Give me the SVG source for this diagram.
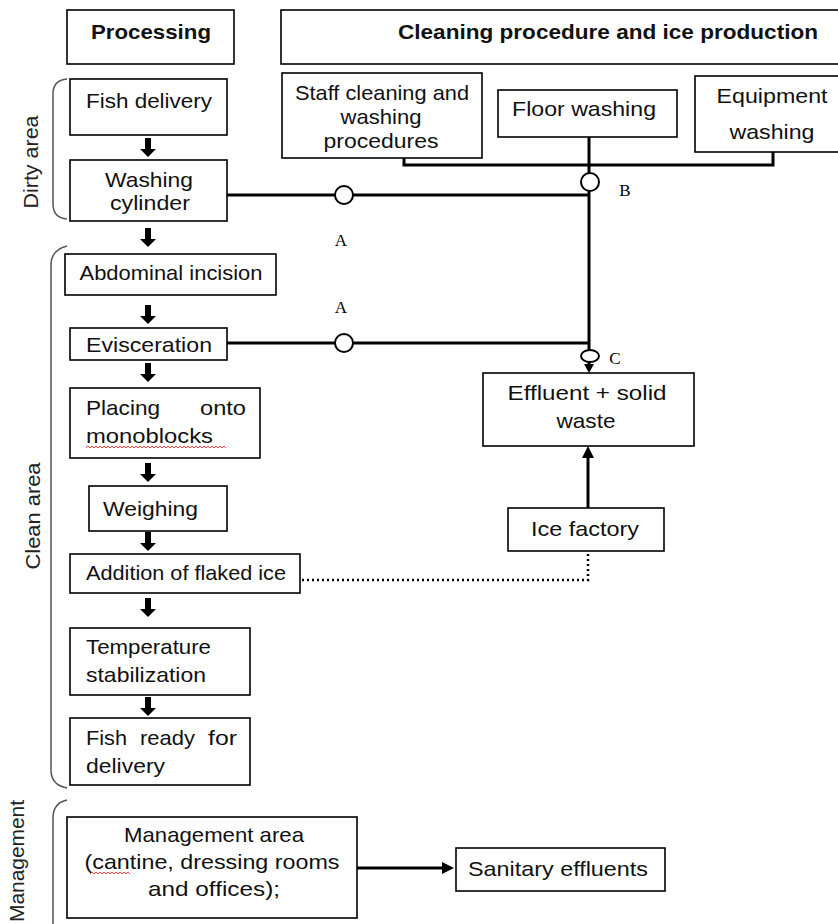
<svg xmlns="http://www.w3.org/2000/svg" width="838" height="924" viewBox="0 0 838 924">
  <defs>
    <style>
      .box { fill: #fff; stroke: #000; stroke-width: 1.6; }
      .t { font-family: "Liberation Sans", Arial, sans-serif; font-size: 21px; fill: #111; }
      .h { font-family: "Liberation Sans", Arial, sans-serif; font-size: 21px; font-weight: bold; fill: #111; }
      .lbl { font-family: "Liberation Serif", "Times New Roman", serif; font-size: 17px; fill: #000; }
      .side { font-family: "Liberation Sans", Arial, sans-serif; font-size: 21px; fill: #222; }
      .pipe { fill: none; stroke: #000; stroke-width: 3; }
      .dot { fill: none; stroke: #000; stroke-width: 2.5; stroke-dasharray: 2 3; }
      .brace { fill: none; stroke: #555; stroke-width: 1.5; }
      .node { fill: #fff; stroke: #000; stroke-width: 2; }
      .spell { fill: none; stroke: #e03030; stroke-width: 0.9; }
    </style>
    <!-- thick block arrow pointing down, origin at the top centre of the shaft -->
    <path id="down" d="M-3,0 H3 V11 H8 L0,19 L-8,11 H-3 Z" fill="#000"/>
  </defs>

  <rect width="838" height="924" fill="#fff"/>

  <!-- column headers -->
  <g id="hdr-processing">
    <rect class="box" x="67" y="10" width="167" height="54"/>
    <text class="h" x="151" y="39" text-anchor="middle" textLength="120" lengthAdjust="spacingAndGlyphs">Processing</text>
  </g>
  <g id="hdr-cleaning">
    <rect class="box" x="281" y="10" width="565" height="54"/>
    <text class="h" x="398" y="39" textLength="420" lengthAdjust="spacingAndGlyphs">Cleaning procedure and ice production</text>
  </g>

  <!-- area braces and side labels -->
  <g id="area-dirty">
    <path class="brace" d="M67,79 Q53,80 53,94 V204 Q53,218 67,219"/>
    <text class="side" transform="translate(38,162) rotate(-90)" text-anchor="middle" textLength="93" lengthAdjust="spacingAndGlyphs">Dirty area</text>
  </g>
  <g id="area-clean">
    <path class="brace" d="M67,246 Q51,250 51,265 V770 Q51,785 67,788"/>
    <text class="side" transform="translate(40,516) rotate(-90)" text-anchor="middle" textLength="107" lengthAdjust="spacingAndGlyphs">Clean area</text>
  </g>
  <g id="area-management">
    <path class="brace" d="M67,800 Q53,803 53,818 V924"/>
    <text class="side" transform="translate(24,861) rotate(-90)" text-anchor="middle" textLength="122" lengthAdjust="spacingAndGlyphs">Management</text>
  </g>

  <!-- processing steps -->
  <g id="fish-delivery">
    <rect class="box" x="70" y="79" width="157" height="56"/>
    <text class="t" x="149" y="108" text-anchor="middle" textLength="126" lengthAdjust="spacingAndGlyphs">Fish delivery</text>
  </g>
  <g id="washing-cylinder">
    <rect class="box" x="70" y="160" width="157" height="61"/>
    <text class="t" x="149" y="187" text-anchor="middle" textLength="88" lengthAdjust="spacingAndGlyphs">Washing</text>
    <text class="t" x="150" y="210" text-anchor="middle" textLength="80" lengthAdjust="spacingAndGlyphs">cylinder</text>
  </g>
  <g id="abdominal-incision">
    <rect class="box" x="65" y="254" width="211" height="41"/>
    <text class="t" x="171" y="280" text-anchor="middle" textLength="183" lengthAdjust="spacingAndGlyphs">Abdominal incision</text>
  </g>
  <g id="evisceration">
    <rect class="box" x="70" y="328" width="157" height="32"/>
    <text class="t" x="86" y="352" textLength="126" lengthAdjust="spacingAndGlyphs">Evisceration</text>
  </g>
  <g id="placing">
    <rect class="box" x="70" y="388" width="190" height="70"/>
    <text class="t" x="86" y="415" textLength="74" lengthAdjust="spacingAndGlyphs">Placing</text>
    <text class="t" x="200" y="415" textLength="46" lengthAdjust="spacingAndGlyphs">onto</text>
    <text class="t" x="86" y="443" textLength="127" lengthAdjust="spacingAndGlyphs">monoblocks</text>
    <path class="spell" d="M86,448 l2,-2 l2,2 l2,-2 l2,2 l2,-2 l2,2 l2,-2 l2,2 l2,-2 l2,2 l2,-2 l2,2 l2,-2 l2,2 l2,-2 l2,2 l2,-2 l2,2 l2,-2 l2,2 l2,-2 l2,2 l2,-2 l2,2 l2,-2 l2,2 l2,-2 l2,2 l2,-2 l2,2 l2,-2 l2,2 l2,-2 l2,2 l2,-2 l2,2 l2,-2 l2,2 l2,-2 l2,2 l2,-2 l2,2 l2,-2 l2,2 l2,-2 l2,2 l2,-2 l2,2 l2,-2 l2,2 l2,-2 l2,2 l2,-2 l2,2 l2,-2 l2,2 l2,-2 l2,2 l2,-2 l2,2 l2,-2 l2,2 l2,-2 l2,2 l2,-2 l2,2 l2,-2 l2,2 l2,-2 l2,2"/>
  </g>
  <g id="weighing">
    <rect class="box" x="89" y="486" width="138" height="45"/>
    <text class="t" x="103" y="516" textLength="95" lengthAdjust="spacingAndGlyphs">Weighing</text>
  </g>
  <g id="flaked-ice">
    <rect class="box" x="70" y="554" width="230" height="39"/>
    <text class="t" x="86" y="580" textLength="200" lengthAdjust="spacingAndGlyphs">Addition of flaked ice</text>
  </g>
  <g id="temperature">
    <rect class="box" x="70" y="628" width="180" height="67"/>
    <text class="t" x="86" y="654" textLength="125" lengthAdjust="spacingAndGlyphs">Temperature</text>
    <text class="t" x="86" y="682" textLength="120" lengthAdjust="spacingAndGlyphs">stabilization</text>
  </g>
  <g id="fish-ready">
    <rect class="box" x="70" y="718" width="180" height="67"/>
    <text class="t" x="86" y="745" textLength="41" lengthAdjust="spacingAndGlyphs">Fish</text>
    <text class="t" x="140" y="745" textLength="55" lengthAdjust="spacingAndGlyphs">ready</text>
    <text class="t" x="208" y="745" textLength="29" lengthAdjust="spacingAndGlyphs">for</text>
    <text class="t" x="86" y="773" textLength="79" lengthAdjust="spacingAndGlyphs">delivery</text>
  </g>

  <!-- cleaning sources -->
  <g id="staff-cleaning">
    <rect class="box" x="282" y="73" width="200" height="85"/>
    <text class="t" x="382" y="100" text-anchor="middle" textLength="174" lengthAdjust="spacingAndGlyphs">Staff cleaning and</text>
    <text class="t" x="381" y="124" text-anchor="middle" textLength="81" lengthAdjust="spacingAndGlyphs">washing</text>
    <text class="t" x="381" y="148" text-anchor="middle" textLength="115" lengthAdjust="spacingAndGlyphs">procedures</text>
  </g>
  <g id="floor-washing">
    <rect class="box" x="498" y="90" width="179" height="47"/>
    <text class="t" x="584" y="116" text-anchor="middle" textLength="144" lengthAdjust="spacingAndGlyphs">Floor washing</text>
  </g>
  <g id="equipment-washing">
    <rect class="box" x="695" y="76" width="150" height="76"/>
    <text class="t" x="772" y="103" text-anchor="middle" textLength="111" lengthAdjust="spacingAndGlyphs">Equipment</text>
    <text class="t" x="772" y="139" text-anchor="middle" textLength="85" lengthAdjust="spacingAndGlyphs">washing</text>
  </g>

  <!-- waste side -->
  <g id="effluent">
    <rect class="box" x="483" y="373" width="211" height="73"/>
    <text class="t" x="587" y="400" text-anchor="middle" textLength="159" lengthAdjust="spacingAndGlyphs">Effluent + solid</text>
    <text class="t" x="586" y="428" text-anchor="middle" textLength="59" lengthAdjust="spacingAndGlyphs">waste</text>
  </g>
  <g id="ice-factory">
    <rect class="box" x="508" y="508" width="156" height="43"/>
    <text class="t" x="585" y="536" text-anchor="middle" textLength="108" lengthAdjust="spacingAndGlyphs">Ice factory</text>
  </g>

  <!-- management -->
  <g id="management-area">
    <rect class="box" x="67" y="817" width="290" height="101"/>
    <text class="t" x="214" y="842" text-anchor="middle" textLength="180" lengthAdjust="spacingAndGlyphs">Management area</text>
    <text class="t" x="212" y="869" text-anchor="middle" textLength="255" lengthAdjust="spacingAndGlyphs">(cantine, dressing rooms</text>
    <text class="t" x="214" y="896" text-anchor="middle" textLength="132" lengthAdjust="spacingAndGlyphs">and offices);</text>
    <path class="spell" d="M90,874 l2,-2 l2,2 l2,-2 l2,2 l2,-2 l2,2 l2,-2 l2,2 l2,-2 l2,2 l2,-2 l2,2 l2,-2 l2,2 l2,-2 l2,2 l2,-2 l2,2 l2,-2 l2,2"/>
  </g>
  <g id="sanitary-effluents">
    <rect class="box" x="456" y="848" width="209" height="43"/>
    <text class="t" x="558" y="876" text-anchor="middle" textLength="180" lengthAdjust="spacingAndGlyphs">Sanitary effluents</text>
  </g>

  <!-- connectors -->
  <g id="connectors">
    <!-- process flow arrows -->
    <use href="#down" x="148" y="138"/>
    <use href="#down" x="148" y="228"/>
    <use href="#down" x="148" y="305"/>
    <use href="#down" x="148" y="363"/>
    <use href="#down" x="148" y="463"/>
    <use href="#down" x="148" y="532"/>
    <use href="#down" x="148" y="598"/>
    <use href="#down" x="148" y="697"/>

    <!-- cleaning collector -->
    <path class="pipe" d="M404,158 V165 H773 V152"/>
    <path class="pipe" d="M589,137 V350"/>
    <!-- wastewater lines from washing cylinder and evisceration -->
    <path class="pipe" d="M227,195 H589"/>
    <path class="pipe" d="M227,343 H589"/>
    <!-- to effluent -->
    <path class="pipe" d="M589,362 V366"/>
    <path d="M584,364 H594 L589,373 Z" fill="#000"/>

    <!-- ice factory to effluent -->
    <path class="pipe" d="M588,508 V456"/>
    <path d="M582,458 L588,446 L594,458 Z" fill="#000"/>
    <!-- ice supply to processing -->
    <path class="dot" d="M302,580 H588 V553"/>

    <!-- management to sanitary effluents -->
    <path class="pipe" d="M357,868 H444"/>
    <path d="M442,862 L454,868 L442,874 Z" fill="#000"/>

    <!-- sampling points -->
    <circle class="node" cx="344" cy="195" r="9"/>
    <circle class="node" cx="344" cy="343" r="9"/>
    <circle class="node" cx="590" cy="182" r="9"/>
    <ellipse class="node" cx="590" cy="356" rx="9" ry="6"/>
    <text class="lbl" x="341" y="246" text-anchor="middle">A</text>
    <text class="lbl" x="341" y="313" text-anchor="middle">A</text>
    <text class="lbl" x="625" y="196" text-anchor="middle">B</text>
    <text class="lbl" x="615" y="364" text-anchor="middle">C</text>
  </g>
</svg>
